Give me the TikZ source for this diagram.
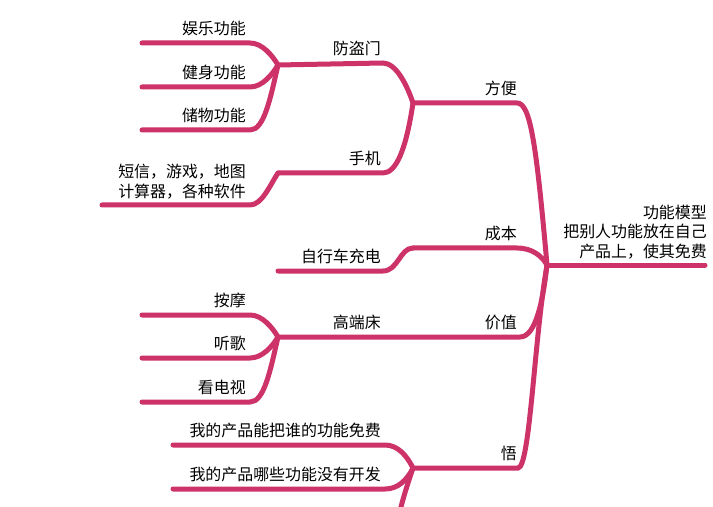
\documentclass[tikz,border=0pt]{standalone}
\usepackage{fontspec}
\newfontfamily\cjk{Noto Sans CJK SC}
\definecolor{mapred}{RGB}{205,50,105}
\tikzset{
  branch/.style={draw=mapred, line width=5bp, line cap=round},
  lbl/.style={font=\cjk\fontsize{16}{19.5}\selectfont, inner sep=1bp, anchor=south east, align=right}
}

\begin{document}
\begin{tikzpicture}[x=1bp,y=-1bp]
\useasboundingbox[fill=white] (0,0) rectangle (713,507);

% junction points
\coordinate (root)  at (547,265);
\coordinate (fb)    at (413,103);
\coordinate (fdm)   at (278,65);
\coordinate (sj)    at (278,173);
\coordinate (cb)    at (413,248);
\coordinate (gdc)   at (278,337);
\coordinate (wu)    at (413,468);

% line end points
\coordinate (rootR) at (705,265);
\coordinate (fbR)   at (517,103);
\coordinate (cbR)   at (517,248);
\coordinate (jzR)   at (520,337);
\coordinate (wuR)   at (518,468);
\coordinate (fdmR)  at (383,63);
\coordinate (sjR)   at (383,173);
\coordinate (zxR)   at (383,271);
\coordinate (zxL)   at (278,271);
\coordinate (ylR)   at (250,43);
\coordinate (ylL)   at (142,43);
\coordinate (jsR)   at (250,87);
\coordinate (jsL)   at (142,87);
\coordinate (cwR)   at (250,130);
\coordinate (cwL)   at (142,130);
\coordinate (dxR)   at (250,205);
\coordinate (dxL)   at (102,205);
\coordinate (amR)   at (250,315);
\coordinate (amL)   at (142,315);
\coordinate (tgR)   at (250,358);
\coordinate (tgL)   at (142,358);
\coordinate (dsR)   at (250,402);
\coordinate (dsL)   at (142,402);
\coordinate (w1R)   at (385,445);
\coordinate (w1L)   at (173,445);
\coordinate (w2R)   at (385,489);
\coordinate (w2L)   at (173,489);
\coordinate (w3)    at (398,520);

% texts
\node[lbl] (rootlbl) at (708,260) {功能模型\\把别人功能放在自己\\产品上，使其免费};
\node[lbl] (fblbl)   at (518,97)  {方便};
\node[lbl] (cblbl)   at (518,242) {成本};
\node[lbl] (jzlbl)   at (518,331) {价值};
\node[lbl] (wulbl)   at (518,462) {悟};
\node[lbl] (fdmlbl)  at (382,57)  {防盗门};
\node[lbl] (sjlbl)   at (382,167) {手机};
\node[lbl] (zxlbl)   at (382,265) {自行车充电};
\node[lbl] (gdclbl)  at (382,331) {高端床};
\node[lbl] (yllbl)   at (247,37)  {娱乐功能};
\node[lbl] (jslbl)   at (247,81)  {健身功能};
\node[lbl] (cwlbl)   at (247,124) {储物功能};
\node[lbl] (dxlbl)   at (247,200) {短信，游戏，地图\\计算器，各种软件};
\node[lbl] (amlbl)   at (247,309) {按摩};
\node[lbl] (tglbl)   at (247,352) {听歌};
\node[lbl] (dslbl)   at (247,396) {看电视};
\node[lbl] (w1lbl)   at (382,439) {我的产品能把谁的功能免费};
\node[lbl] (w2lbl)   at (382,483) {我的产品哪些功能没有开发};

% main branches
\draw[branch] (root) -- (rootR);
\draw[branch] (fb) -- (fbR) .. controls (530,103) and (536,140) .. (root);
\draw[branch] (cb) -- (cbR) .. controls (532,248) and (542,256) .. (root);
\draw[branch] (gdc) -- (jzR) .. controls (536,337) and (543,300) .. (root);
\draw[branch] (wu) -- (wuR) .. controls (530,468) and (534,340) .. (root);

% sub branches
\draw[branch] (fdm) -- (fdmR) .. controls (396,63) and (407,85) .. (fb);
\draw[branch] (sj) -- (sjR) .. controls (396,173) and (406,150) .. (fb);
\draw[branch] (zxL) -- (zxR) .. controls (398,271) and (400,248) .. (cb);

% leaves
\draw[branch] (ylL) -- (ylR) .. controls (262,43) and (272,55) .. (fdm);
\draw[branch] (jsL) -- (jsR) .. controls (262,87) and (272,75) .. (fdm);
\draw[branch] (cwL) -- (cwR) .. controls (264,130) and (270,100) .. (fdm);
\draw[branch] (dxL) -- (dxR) .. controls (262,205) and (270,185) .. (sj);
\draw[branch] (amL) -- (amR) .. controls (262,315) and (272,327) .. (gdc);
\draw[branch] (tgL) -- (tgR) .. controls (262,358) and (272,347) .. (gdc);
\draw[branch] (dsL) -- (dsR) .. controls (264,402) and (270,372) .. (gdc);
\draw[branch] (w1L) -- (w1R) .. controls (398,445) and (407,456) .. (wu);
\draw[branch] (w2L) -- (w2R) .. controls (398,489) and (407,480) .. (wu);
\draw[branch] (wu) .. controls (409,480) and (402,500) .. (w3);
\end{tikzpicture}
\end{document}
